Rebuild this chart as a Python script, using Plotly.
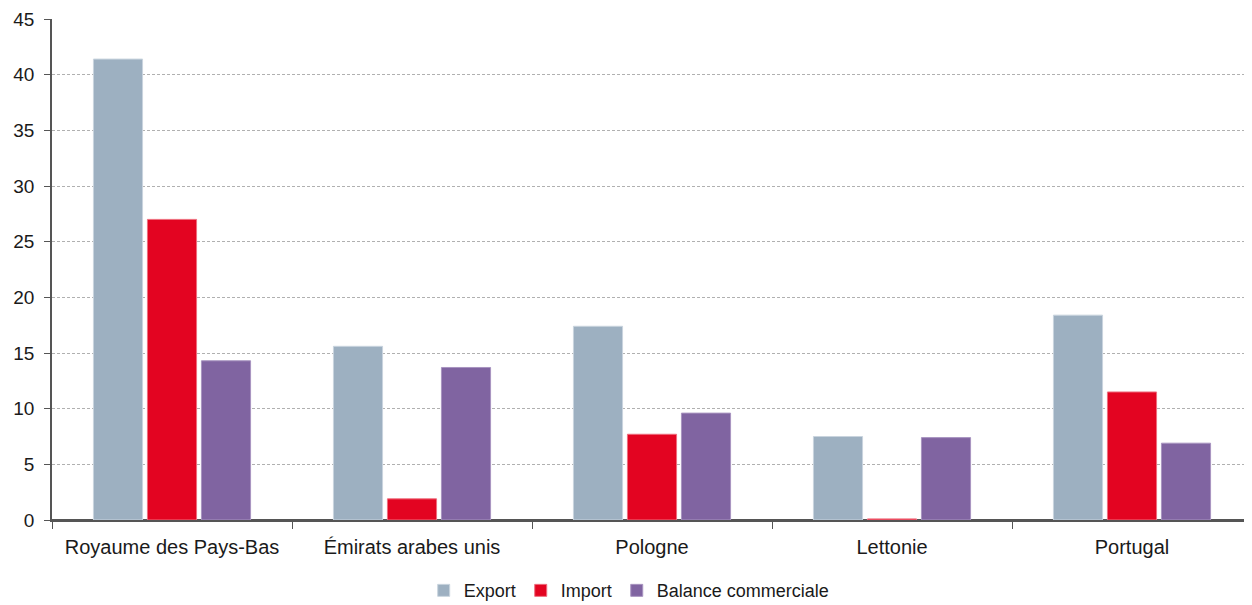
import plotly.graph_objects as go

categories = ["Royaume des Pays-Bas", "Émirats arabes unis", "Pologne", "Lettonie", "Portugal"]
export_vals = [41.4, 15.6, 17.4, 7.5, 18.4]
import_vals = [27.0, 1.9, 7.7, 0.1, 11.5]
balance_vals = [14.3, 13.7, 9.6, 7.4, 6.9]
y_ticks = [0, 5, 10, 15, 20, 25, 30, 35, 40, 45]

FONT = "Liberation Sans, Arial, Helvetica, sans-serif"

fig = go.Figure()
fig.add_trace(go.Bar(name="Export", x=categories, y=export_vals,
                     marker=dict(color="#9DB0C1", line=dict(color="#C9D4DE", width=1))))
fig.add_trace(go.Bar(name="Import", x=categories, y=import_vals,
                     marker=dict(color="#E30421", line=dict(color="#EE6E7E", width=1))))
fig.add_trace(go.Bar(name="Balance commerciale", x=categories, y=balance_vals,
                     marker=dict(color="#8064A1", line=dict(color="#A894C0", width=1))))

fig.update_layout(
    width=1244, height=597,
    margin=dict(l=44, r=0, t=11, b=85),
    paper_bgcolor="white", plot_bgcolor="white",
    barmode="group", bargap=0.325, bargroupgap=0.09,
    font=dict(family=FONT, size=19, color="#1a1a1a"),
    showlegend=True,
    legend=dict(orientation="h", x=0.481, xanchor="center",
                yref="container", y=0.024, yanchor="middle",
                font=dict(size=18), itemwidth=30, traceorder="normal"),
    xaxis=dict(
        automargin=False,
        showline=True, linecolor="#555555", linewidth=1.5,
        ticks="outside", tickson="boundaries", ticklen=7, tickcolor="#555555",
        showgrid=False, tickfont=dict(size=20), ticklabelstandoff=8,
    ),
    yaxis=dict(
        automargin=False,
        range=[0, 45], tickvals=y_ticks, ticktext=[str(v) for v in y_ticks],
        showline=True, linecolor="#555555", linewidth=1.5,
        ticks="outside", ticklen=6, tickcolor="#555555",
        showgrid=True, gridcolor="#b0b0b0", griddash="3px,2px", gridwidth=1,
        zeroline=True, zerolinecolor="#555555", zerolinewidth=1.5,
        tickfont=dict(size=19), ticklabelstandoff=6,
    ),
)

fig.write_html("out.html")
